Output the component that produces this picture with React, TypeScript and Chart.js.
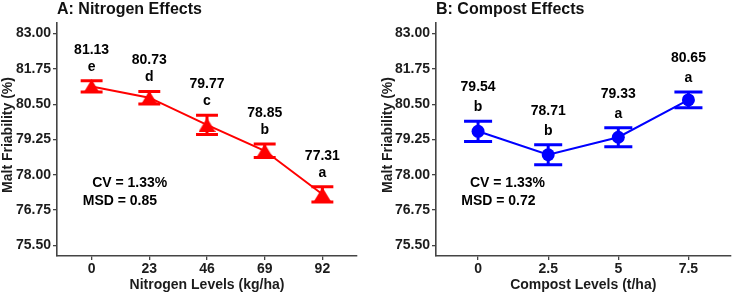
import React, { useEffect, useRef } from "react";
import { Chart, registerables } from "chart.js";

Chart.register(...registerables);

// Panel A: nitrogen rates
const nitrogenLevels = ["0", "23", "46", "69", "92"];
const nitrogenMeans = [81.13, 80.73, 79.77, 78.85, 77.31];
const nitrogenSE = [0.2, 0.22, 0.34, 0.24, 0.27];
const nitrogenLetters = ["e", "d", "c", "b", "a"];
const nitrogenStats = ["CV = 1.33%", "MSD = 0.85"];

// Panel B: compost rates
const compostLevels = ["0", "2.5", "5", "7.5"];
const compostMeans = [79.54, 78.71, 79.33, 80.65];
const compostSE = [0.36, 0.35, 0.34, 0.28];
const compostLetters = ["b", "b", "a", "a"];
const compostStats = ["CV = 1.33%", "MSD = 0.72"];

// Shared y axis
const yTicks = [75.5, 76.75, 78.0, 79.25, 80.5, 81.75, 83.0];
const yMin = 75.125;
const yMax = 83.375;

const FONT = "'Liberation Sans', Arial, sans-serif";
const AXIS = "#444444";
const INK = "#1c1c1c";

// Filled triangle marker, centred on its bounding box
function triangleMarker(color: string, w: number, h: number) {
  const c = document.createElement("canvas");
  c.width = w;
  c.height = h;
  const g = c.getContext("2d")!;
  g.fillStyle = color;
  g.beginPath();
  g.moveTo(w / 2, 0);
  g.lineTo(w, h);
  g.lineTo(0, h);
  g.closePath();
  g.fill();
  return c;
}

type PanelProps = {
  title: string;
  xTitle: string;
  levels: string[];
  means: number[];
  se: number[];
  letters: string[];
  stats: string[];
  statsAt: { x: number; y: number }[];
  color: string;
  marker: "triangle" | "circle";
  pointRadius: number;
  capHalf: number;
  width: number;
  plotLeft: number;
  plotRight: number;
  yTitleX: number;
  valueOffset: number;
  letterOffset: number;
};

function Panel(p: PanelProps) {
  const ref = useRef<HTMLCanvasElement | null>(null);

  useEffect(() => {
    const canvas = ref.current;
    if (!canvas) return;

    const decor = {
      id: "panelDecor",
      beforeDatasetsDraw(chart: any) {
        const { ctx, scales } = chart;
        const xs = scales.x;
        const ys = scales.y;
        ctx.save();
        ctx.strokeStyle = p.color;
        ctx.lineWidth = 3;
        ctx.lineCap = "butt";
        p.means.forEach((m, i) => {
          const x = xs.getPixelForValue(i);
          const xl = xs.getPixelForValue(i - p.capHalf);
          const xr = xs.getPixelForValue(i + p.capHalf);
          const yt = ys.getPixelForValue(m + p.se[i]);
          const yb = ys.getPixelForValue(m - p.se[i]);
          ctx.beginPath();
          ctx.moveTo(x, yt);
          ctx.lineTo(x, yb);
          ctx.moveTo(xl, yt);
          ctx.lineTo(xr, yt);
          ctx.moveTo(xl, yb);
          ctx.lineTo(xr, yb);
          ctx.stroke();
        });
        ctx.restore();
      },
      afterDatasetsDraw(chart: any) {
        const { ctx, scales } = chart;
        const xs = scales.x;
        const ys = scales.y;
        ctx.save();
        ctx.fillStyle = "#000000";
        ctx.textAlign = "center";
        ctx.textBaseline = "alphabetic";
        ctx.font = `bold 14px ${FONT}`;
        p.means.forEach((m, i) => {
          const x = xs.getPixelForValue(i);
          const yt = ys.getPixelForValue(m + p.se[i]);
          ctx.fillText(m.toFixed(2), x, yt - p.valueOffset);
          ctx.fillText(p.letters[i], x, yt - p.letterOffset);
        });
        ctx.textBaseline = "middle";
        p.stats.forEach((s, k) => {
          const at = p.statsAt[k];
          ctx.fillText(s, xs.getPixelForValue(at.x), ys.getPixelForValue(at.y));
        });
        ctx.restore();
      },
      afterDraw(chart: any) {
        const { ctx, chartArea } = chart;
        ctx.save();
        ctx.fillStyle = "#111111";
        ctx.textBaseline = "alphabetic";
        ctx.textAlign = "left";
        ctx.font = `bold 16px ${FONT}`;
        ctx.fillText(p.title, chartArea.left, 14);

        ctx.fillStyle = INK;
        ctx.font = `bold 14px ${FONT}`;
        ctx.textAlign = "center";
        ctx.fillText(p.xTitle, (chartArea.left + chartArea.right) / 2, 289);

        ctx.translate(p.yTitleX, 135);
        ctx.rotate(-Math.PI / 2);
        ctx.textBaseline = "middle";
        ctx.fillText("Malt Friability (%)", 0, 0);
        ctx.restore();
      },
    };

    const pointStyle =
      p.marker === "triangle" ? triangleMarker(p.color, 17, 14) : "circle";

    const chart = new Chart(canvas, {
      type: "line",
      data: {
        datasets: [
          {
            data: p.means.map((m, i) => ({ x: i, y: m })),
            borderColor: p.color,
            backgroundColor: p.color,
            borderWidth: 2,
            pointStyle,
            pointRadius: p.pointRadius,
            pointBackgroundColor: p.color,
            pointBorderColor: p.color,
            pointBorderWidth: 0,
            tension: 0,
          },
        ],
      },
      options: {
        responsive: false,
        animation: false,
        devicePixelRatio: 1,
        layout: {
          padding: { top: 23, right: p.width - p.plotRight, left: 0, bottom: 0 },
        },
        plugins: {
          legend: { display: false },
          tooltip: { enabled: false },
          title: { display: false },
        },
        scales: {
          x: {
            type: "linear",
            min: -0.6,
            max: p.levels.length - 0.4,
            afterBuildTicks: (s: any) => {
              s.ticks = p.levels.map((_, i) => ({ value: i }));
            },
            afterFit: (s: any) => {
              s.height = 40;
            },
            ticks: {
              callback: (_v: any, i: number) => p.levels[i],
              color: INK,
              font: { family: FONT, size: 14, weight: "bold" },
              padding: 1,
              autoSkip: false,
              maxRotation: 0,
            },
            grid: {
              drawOnChartArea: false,
              drawTicks: true,
              tickLength: 4,
              color: AXIS,
              lineWidth: 1.3,
            },
            border: { display: true, color: AXIS, width: 1.6 },
          },
          y: {
            type: "linear",
            min: yMin,
            max: yMax,
            afterBuildTicks: (s: any) => {
              s.ticks = yTicks.map((v) => ({ value: v }));
            },
            afterFit: (s: any) => {
              s.width = p.plotLeft;
            },
            ticks: {
              callback: (v: any) => Number(v).toFixed(2),
              color: INK,
              font: { family: FONT, size: 14, weight: "bold" },
              padding: 2,
              autoSkip: false,
            },
            grid: {
              drawOnChartArea: false,
              drawTicks: true,
              tickLength: 4,
              color: AXIS,
              lineWidth: 1.3,
            },
            border: { display: true, color: AXIS, width: 1.6 },
          },
        },
      },
      plugins: [decor],
    } as any);

    return () => chart.destroy();
  }, []);

  return <canvas ref={ref} width={p.width} height={296} style={{ display: "block" }} />;
}

export default function App() {
  return (
    <div
      style={{
        position: "absolute",
        left: 0,
        top: 0,
        width: 737,
        height: 296,
        background: "#ffffff",
        display: "flex",
      }}
    >
      <Panel
        title="A: Nitrogen Effects"
        xTitle="Nitrogen Levels (kg/ha)"
        levels={nitrogenLevels}
        means={nitrogenMeans}
        se={nitrogenSE}
        letters={nitrogenLetters}
        stats={nitrogenStats}
        statsAt={[
          { x: 0.66, y: 77.69 },
          { x: 0.49, y: 77.05 },
        ]}
        color="#ff0000"
        marker="triangle"
        pointRadius={8}
        capHalf={0.19}
        width={370}
        plotLeft={57}
        plotRight={357}
        yTitleX={8}
        valueOffset={27}
        letterOffset={10}
      />
      <Panel
        title="B: Compost Effects"
        xTitle="Compost Levels (t/ha)"
        levels={compostLevels}
        means={compostMeans}
        se={compostSE}
        letters={compostLetters}
        stats={compostStats}
        statsAt={[
          { x: 0.42, y: 77.69 },
          { x: 0.29, y: 77.05 },
        ]}
        color="#0000ff"
        marker="circle"
        pointRadius={6.5}
        capHalf={0.2}
        width={367}
        plotLeft={66}
        plotRight={366}
        yTitleX={18}
        valueOffset={30}
        letterOffset={10}
      />
    </div>
  );
}
